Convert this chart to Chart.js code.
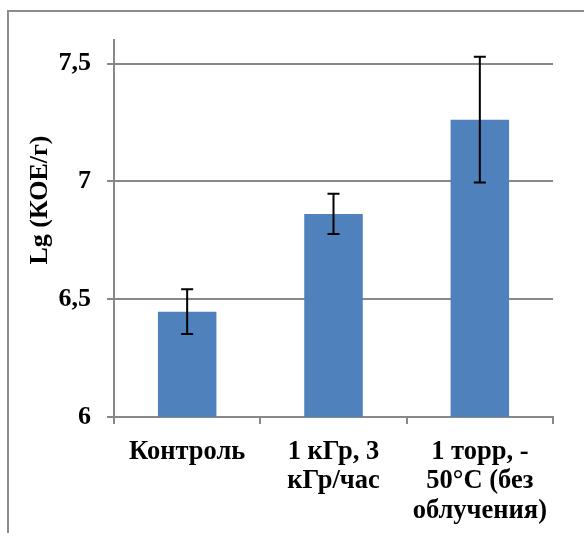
<!DOCTYPE html>
<html>
<head>
<meta charset="utf-8">
<script src="https://cdn.jsdelivr.net/npm/chart.js@4"></script>
<style>
  body { margin: 0; background: #fff; }
</style>
</head>
<body>
<canvas id="chart" width="584" height="533"></canvas>
<script>
// data
const categories = [["Контроль"], ["1 кГр, 3", "кГр/час"], ["1 торр, -", "50°C (без", "облучения)"]];
const means = [6.447, 6.862, 7.262];
const errors = [0.095, 0.085, 0.267];
const yTicks = [6, 6.5, 7, 7.5];
const yTitle = "Lg (КОЕ/г)";

const gray = "#888888";
const serif = "'Liberation Serif', 'Times New Roman', serif";

// outer frame of the chart, cut off at right and bottom like the original
const framePlugin = {
  id: "frame",
  beforeDraw(chart) {
    const ctx = chart.ctx;
    ctx.save();
    ctx.fillStyle = "#fff";
    ctx.fillRect(0, 0, chart.width, chart.height);
    ctx.strokeStyle = "#8c8c8c";
    ctx.lineWidth = 2;
    ctx.strokeRect(8, 11, 800, 800);
    ctx.restore();
  }
};

// error bars and the axis title (title sits above centre as in Excel)
const errorBarPlugin = {
  id: "errorBars",
  afterDatasetsDraw(chart) {
    const ctx = chart.ctx;
    const x = chart.scales.x;
    const y = chart.scales.y;
    ctx.save();
    ctx.strokeStyle = "#000";
    ctx.lineWidth = 2;
    means.forEach((m, i) => {
      const px = x.getPixelForValue(i);
      const top = y.getPixelForValue(m + errors[i]);
      const bot = y.getPixelForValue(m - errors[i]);
      ctx.beginPath();
      ctx.moveTo(px, top);
      ctx.lineTo(px, bot);
      ctx.moveTo(px - 6, top);
      ctx.lineTo(px + 6, top);
      ctx.moveTo(px - 6, bot);
      ctx.lineTo(px + 6, bot);
      ctx.stroke();
    });

    ctx.translate(40, 200);
    ctx.rotate(-Math.PI / 2);
    ctx.font = "bold 26px " + serif;
    ctx.fillStyle = "#000";
    ctx.textAlign = "center";
    ctx.textBaseline = "middle";
    ctx.fillText(yTitle, 0, 0);
    ctx.restore();
  }
};

new Chart(document.getElementById("chart"), {
  type: "bar",
  data: {
    labels: categories,
    datasets: [{
      data: means,
      backgroundColor: "#4F81BD",
      borderWidth: 0,
      barPercentage: 0.4,
      categoryPercentage: 1
    }]
  },
  options: {
    responsive: false,
    animation: false,
    events: [],
    layout: { padding: { left: 0, top: 40, right: 31, bottom: 0 } },
    plugins: { legend: { display: false }, tooltip: { enabled: false } },
    scales: {
      x: {
        afterFit(scale) { scale.height = 116; },
        grid: { offset: true, drawOnChartArea: false, color: gray, lineWidth: 2, tickLength: 7 },
        border: { color: gray, width: 2 },
        ticks: {
          color: "#000",
          padding: 13,
          maxRotation: 0,
          autoSkip: false,
          font: { family: serif, size: 26.5, weight: "bold", lineHeight: 1.12 }
        }
      },
      y: {
        min: 6,
        max: 7.6,
        afterFit(scale) { scale.width = 114; },
        afterBuildTicks(scale) {
          scale.ticks = yTicks.map(v => ({ value: v }));
        },
        grid: { color: gray, lineWidth: 2, tickLength: 7 },
        border: { color: gray, width: 2 },
        ticks: {
          color: "#000",
          padding: 16,
          font: { family: serif, size: 26, weight: "bold" },
          callback: v => String(v).replace(".", ",")
        }
      }
    }
  },
  plugins: [framePlugin, errorBarPlugin]
});
</script>
</body>
</html>
